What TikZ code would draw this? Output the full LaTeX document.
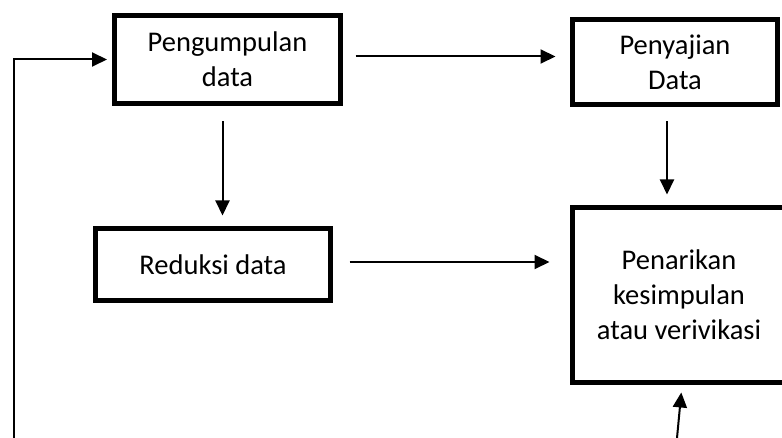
\documentclass[tikz,border=0pt]{standalone}
\usepackage{fontspec}
\setmainfont{Carlito}
\usetikzlibrary{arrows.meta}

\begin{document}
\begin{tikzpicture}[x=1pt,y=-1pt,
  box/.style={draw, line width=5pt, align=center, inner sep=0pt,
    font=\fontsize{28.5}{35}\selectfont},
  arr/.style={-{Triangle[length=15pt,width=14pt]}, line width=2pt}]
\useasboundingbox (0,0) rectangle (782,438);
\node[box, minimum width=226pt, minimum height=88pt] (kumpul) at (227.5,59.5) {Pengumpulan\\data};
\node[box, minimum width=205pt, minimum height=85pt] (saji) at (675,62) {Penyajian\\Data};
\node[box, minimum width=235pt, minimum height=72pt] (reduksi) at (213,264.5) {Reduksi data};
\node[box, minimum width=213pt, minimum height=175pt] (tarik) at (679,295) {Penarikan\\kesimpulan\\atau verivikasi};
\coordinate (umpan) at (14,438);
\coordinate (bawah) at (677,438);
\draw[arr] (umpan) |- ([xshift=-5pt]kumpul.west);
\draw[arr, shorten <=12.5pt, shorten >=14.5pt] ([yshift=3pt]kumpul.east) -- ([yshift=3pt]kumpul.east -| saji.west);
\draw[arr, shorten <=15.5pt, shorten >=10.5pt] ([xshift=-5pt]kumpul.south) -- ([xshift=-5pt]kumpul.south |- reduksi.north);
\draw[arr, shorten <=14.5pt, shorten >=10.5pt] ([xshift=-8pt]saji.south) -- ([xshift=-8pt]saji.south |- tarik.north);
\draw[arr, shorten <=16.5pt, shorten >=20.5pt] ([yshift=2.5pt]reduksi.east) -- ([yshift=2.5pt]reduksi.east -| tarik.west);
\draw[arr, shorten >=7.5pt] (bawah) -- ([xshift=3pt]tarik.south);
\end{tikzpicture}
\end{document}
